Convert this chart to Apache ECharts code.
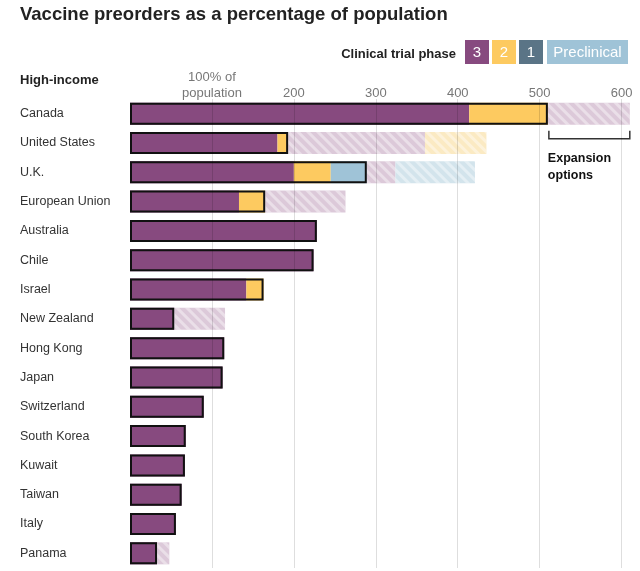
<!DOCTYPE html>
<html><head><meta charset="utf-8">
<script src="https://cdn.jsdelivr.net/npm/echarts@6/dist/echarts.min.js"></script>
<style>html,body{margin:0;padding:0;background:#fff}#c{width:640px;height:571px}</style>
</head><body><div id="c"></div>
<script>
const countries = ['Canada','United States','U.K.','European Union','Australia','Chile','Israel','New Zealand','Hong Kong','Japan','Switzerland','South Korea','Kuwait','Taiwan','Italy','Panama'];
const phase3      = [414, 180, 200, 133, 228, 224, 142, 54, 115, 113, 90, 68, 67, 63, 56, 33];
const phase2      = [96,  13,  45,  32,  0,   0,   21,  0,  0,   0,   0,  0,  0,  0,  0,  0];
const preclinical = [0,   0,   44,  0,   0,   0,   0,   0,  0,   0,   0,  0,  0,  0,  0,  0];
const expansion3  = [100, 167, 35,  98,  0,   0,   0,   62, 0,   0,   0,  0,  0,  0,  0,  15];
const expansion2  = [0,   75,  0,   0,   0,   0,   0,   0,  0,   0,   0,  0,  0,  0,  0,  0];
const expansionPre= [0,   0,   97,  0,   0,   0,   0,   0,  0,   0,   0,  0,  0,  0,  0,  0];
const tickValues = [100, 200, 300, 400, 500, 600];
const legendItems = ['3', '2', '1', 'Preclinical'];

const FONT = '"Liberation Sans", Arial, sans-serif';
const C3 = '#874a7f', C2 = '#fdca60', C1 = '#5a7486', CP = '#9fc3d7';
const committed = phase3.map((v, i) => v + phase2[i] + preclinical[i]);
const totals = committed.map((v, i) => v + expansion3[i] + expansion2[i] + expansionPre[i]);

const chart = echarts.init(document.getElementById('c'), null, {renderer: 'canvas'});
const BW = 22;
function hatch(base) {
  return {
    color: base,
    decal: {symbol: 'rect', symbolSize: 1, color: 'rgba(255,255,255,0.4)', dashArrayX: [1, 0], dashArrayY: [3, 4], rotation: Math.PI / 4}
  };
}
const seg = (name, data, itemStyle) => ({
  name, type: 'bar', stack: 'all', data, barWidth: BW, itemStyle, silent: true
});

chart.setOption({
  animation: false,
  backgroundColor: '#fff',
  textStyle: {fontFamily: FONT},
  title: {text: 'Vaccine preorders as a percentage of population', left: 20, top: 5, padding: 0,
    textStyle: {fontFamily: FONT, fontSize: 18.5, fontWeight: 'bold', color: '#222'}},
  grid: {left: 130, right: 2, top: 99, bottom: 3, containLabel: false},
  xAxis: {
    type: 'value', position: 'top', min: 0, max: 620, interval: 100, z: 10,
    axisLine: {show: false}, axisTick: {show: false},
    axisLabel: {
      showMaxLabel: false, showMinLabel: false, margin: -2, color: '#777', fontSize: 13, lineHeight: 16, fontFamily: FONT,
      formatter: v => tickValues.indexOf(v) < 0 ? '' : (v === 100 ? '100% of\npopulation' : String(v))
    },
    splitLine: {show: true, showMinLine: false, showMaxLine: false, lineStyle: {color: 'rgba(0,0,0,0.13)', width: 1}}
  },
  yAxis: {
    type: 'category', data: countries, inverse: true,
    axisLine: {show: false}, axisTick: {show: false}, splitLine: {show: false},
    axisLabel: {align: 'left', margin: 110, color: '#333', fontSize: 12.5, fontFamily: FONT}
  },
  series: [
    seg('3', phase3, {color: C3}),
    seg('2', phase2, {color: C2}),
    seg('Preclinical', preclinical, {color: CP}),
    seg('Expansion 3', expansion3, hatch('#dcc9d9')),
    seg('Expansion 2', expansion2, hatch('#fbeac3')),
    seg('Expansion preclinical', expansionPre, hatch('#d3e4ec')),
    {name: 'outline', type: 'bar', data: committed, barWidth: BW, barGap: '-100%', z: 5, silent: true,
     itemStyle: {color: 'rgba(0,0,0,0)', borderColor: '#111', borderWidth: 2}}
  ]
});

// annotations positioned from the data
const xa = chart.convertToPixel({xAxisIndex: 0}, committed[0]) + 1;
const xb = chart.convertToPixel({xAxisIndex: 0}, totals[0]);
const yc = chart.convertToPixel({yAxisIndex: 0}, countries[0]);
const legendX = [465, 492, 519, 547];
const legendW = [24, 24, 24, 81];
const legendC = [C3, C2, C1, CP];
const graphics = [
  {type: 'text', left: 20, top: 74, style: {text: 'High-income', font: 'bold 13px ' + FONT, fill: '#222'}},
  {type: 'text', x: 456, y: 54, style: {text: 'Clinical trial phase', font: 'bold 13px ' + FONT, fill: '#222', align: 'right', verticalAlign: 'middle'}},
  {type: 'polyline', shape: {points: [[xa, yc + 17], [xa, yc + 25], [xb, yc + 25], [xb, yc + 17]]}, style: {stroke: '#333', lineWidth: 1.5, fill: null}},
  {type: 'text', x: xa - 1, y: yc + 36, style: {text: 'Expansion\noptions', font: 'bold 12.5px ' + FONT, fill: '#111', lineHeight: 17}}
];
legendItems.forEach((t, i) => {
  graphics.push({type: 'rect', shape: {x: legendX[i], y: 40, width: legendW[i], height: 24}, style: {fill: legendC[i]}});
  graphics.push({type: 'text', x: legendX[i] + legendW[i] / 2, y: 53, style: {text: t, font: '15px ' + FONT, fill: '#fff', align: 'center', verticalAlign: 'middle'}});
});
chart.setOption({graphic: graphics});
</script></body></html>
